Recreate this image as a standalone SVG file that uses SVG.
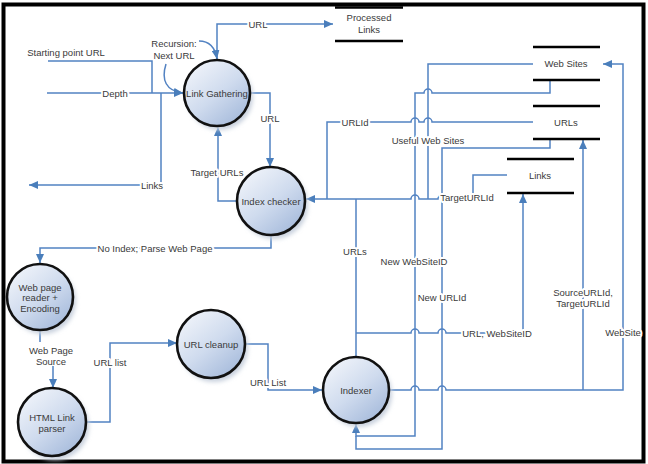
<svg xmlns="http://www.w3.org/2000/svg" width="648" height="464" viewBox="0 0 648 464">
<style>
text{font-family:"Liberation Sans",Arial,sans-serif;font-size:9.5px;fill:#3a3a3a;text-anchor:middle}
.lbl{paint-order:stroke;stroke:#fff;stroke-width:4px;stroke-linejoin:round}
.c{fill:none;stroke:#5282c2;stroke-width:1.5}
.a{marker-end:url(#arr)}
.proc{fill:url(#g);stroke:#111;stroke-width:2.6}
.sh{fill:#c9d1de;filter:url(#blur)}
.store{stroke:#000;stroke-width:2.6}
</style>
<defs>
<linearGradient id="g" x1="0.15" y1="0.1" x2="0.85" y2="0.95">
<stop offset="0" stop-color="#eef2f9"/>
<stop offset="0.5" stop-color="#cfdbee"/>
<stop offset="1" stop-color="#a5badb"/>
</linearGradient>
<filter id="blur" x="-30%" y="-30%" width="160%" height="160%"><feGaussianBlur stdDeviation="2.2"/></filter>
<marker id="arr" markerUnits="userSpaceOnUse" markerWidth="9" markerHeight="8" refX="9" refY="4" orient="auto">
<path d="M0,0 L9,4 L0,8 z" fill="#4a7ebb"/>
</marker>
</defs>
<rect x="0" y="0" width="648" height="464" fill="#fff"/>
<rect x="3.5" y="4.5" width="640" height="457" fill="none" stroke="#000" stroke-width="4"/>

<g id="connectors">
<path class="c a" d="M217,60 V24 H333"/>
<path class="c a" d="M199,41 Q214,41 217,59"/>
<path class="c a" d="M166,64 C161,80 166,91 183,93"/>
<path class="c" d="M48,61 H152 V93"/>
<path class="c a" d="M47,93 H183"/>
<path class="c a" d="M161,93 V185 H29"/>
<path class="c a" d="M250,93 H270 V167"/>
<path class="c a" d="M237,201 H218 V127"/>
<path class="c a" d="M271,235 V248 H40 V263"/>
<path class="c a" d="M40,331 V355 H53 V388"/>
<path class="c a" d="M85,422 H110 V343 H177"/>
<path class="c a" d="M245,344 H268 V390 H322"/>
<path class="c a" d="M507,175 H473 V199 H446 a4,4 0 0 0 -8,0 H419 a4,4 0 0 0 -8,0 H306"/>
<path class="c" d="M533,64 H428 V199"/>
<path class="c a" d="M550,80 V93 H432 a4,4 0 0 0 -8,0 H415 V436 H356 V424"/>
<path class="c" d="M550,139 V148 H442 V449 H356 V436"/>
<path class="c" d="M533,122 H432 a4,4 0 0 0 -8,0 H419 a4,4 0 0 0 -8,0 H327 V199"/>
<path class="c" d="M356,199 V357"/>
<path class="c a" d="M356,333 H411 a4,4 0 0 1 8,0 H438 a4,4 0 0 1 8,0 H523 V194"/>
<path class="c a" d="M389,390 H411 a4,4 0 0 1 8,0 H438 a4,4 0 0 1 8,0 H623 V64 H603"/>
<path class="c a" d="M583,390 V140"/>

<text class="lbl" x="258" y="27.5">URL</text>
<text x="174" y="46.5">Recursion:</text>
<text x="174" y="58.5">Next URL</text>
<text x="66" y="56">Starting point URL</text>
<text class="lbl" x="115" y="96.5">Depth</text>
<text class="lbl" x="152" y="188.5">Links</text>
<text class="lbl" x="270" y="121.5">URL</text>
<text class="lbl" x="217" y="175.5">Target URLs</text>
<text class="lbl" x="155" y="251.5">No Index; Parse Web Page</text>
<rect x="30" y="342" width="44" height="24" fill="#fff"/>
<text x="51" y="353.5">Web Page</text>
<text x="51" y="364.5">Source</text>
<text class="lbl" x="110" y="365.5">URL list</text>
<text class="lbl" x="268" y="385.5">URL List</text>
<text class="lbl" x="355" y="125.5">URLId</text>
<text class="lbl" x="428" y="143.5">Useful Web Sites</text>
<text class="lbl" x="467" y="200.5">TargetURLId</text>
<text class="lbl" x="355" y="254.5">URLs</text>
<text class="lbl" x="414" y="264.5">New WebSiteID</text>
<text class="lbl" x="442" y="300.5">New URLId</text>
<text class="lbl" x="497" y="336.5">URL, WebSiteID</text>
<text class="lbl" x="583" y="295.5">SourceURLId,</text>
<text class="lbl" x="583" y="306.5">TargetURLId</text>
<text class="lbl" x="623" y="335.5">WebSite</text>
</g>

<g id="link-gathering">
<circle class="sh" cx="220" cy="97" r="33"/>
<circle class="proc" cx="217" cy="93" r="33"/>
<text x="217" y="96.5">Link Gathering</text>
</g>
<g id="index-checker">
<circle class="sh" cx="274" cy="205" r="34"/>
<circle class="proc" cx="271" cy="201" r="34"/>
<text x="271" y="204.5">Index checker</text>
</g>
<g id="web-page-reader">
<circle class="sh" cx="43" cy="301" r="33"/>
<circle class="proc" cx="40" cy="297" r="33"/>
<text x="40" y="290.5">Web page</text>
<text x="40" y="301">reader +</text>
<text x="40" y="311.5">Encoding</text>
</g>
<g id="html-link-parser">
<circle class="sh" cx="55" cy="426" r="34"/>
<circle class="proc" cx="52" cy="422" r="34"/>
<text x="52" y="420.5">HTML Link</text>
<text x="52" y="431.5">parser</text>
</g>
<g id="url-cleanup">
<circle class="sh" cx="214" cy="348" r="34"/>
<circle class="proc" cx="211" cy="344" r="34"/>
<text x="211" y="347.5">URL cleanup</text>
</g>
<g id="indexer">
<circle class="sh" cx="359" cy="394" r="33"/>
<circle class="proc" cx="356" cy="390" r="33"/>
<text x="356" y="393.5">Indexer</text>
</g>

<g id="processed-links">
<line class="store" x1="335" y1="7.5" x2="403" y2="7.5"/>
<line class="store" x1="335" y1="41" x2="403" y2="41"/>
<text x="369" y="21">Processed</text>
<text x="369" y="32.5">Links</text>
</g>
<g id="web-sites">
<line class="store" x1="533" y1="47" x2="600" y2="47"/>
<line class="store" x1="533" y1="80" x2="600" y2="80"/>
<text x="566" y="67">Web Sites</text>
</g>
<g id="urls">
<line class="store" x1="533" y1="106" x2="600" y2="106"/>
<line class="store" x1="533" y1="139" x2="600" y2="139"/>
<text x="566" y="126">URLs</text>
</g>
<g id="links">
<line class="store" x1="507" y1="159" x2="574" y2="159"/>
<line class="store" x1="507" y1="193" x2="574" y2="193"/>
<text x="540" y="178.5">Links</text>
</g>
</svg>
